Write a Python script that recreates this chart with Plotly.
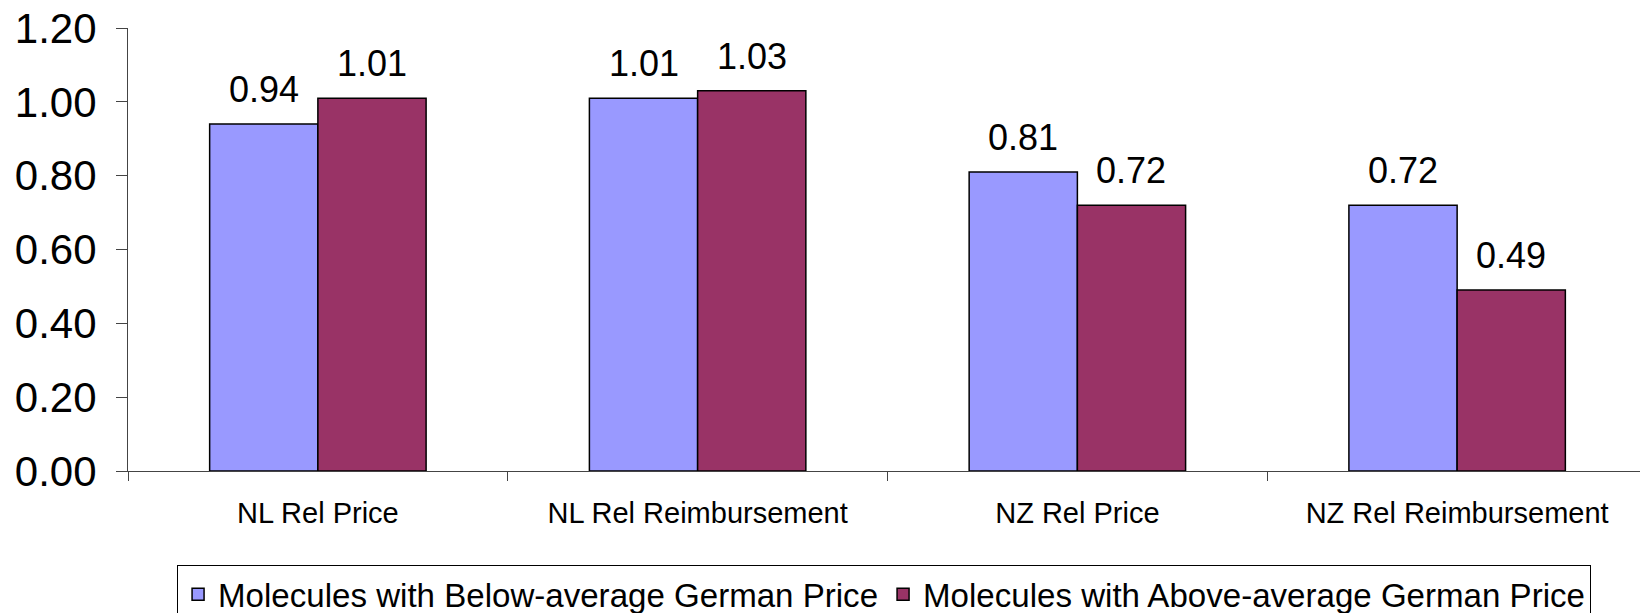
import plotly.graph_objects as go

categories = ["NL Rel Price", "NL Rel Reimbursement", "NZ Rel Price", "NZ Rel Reimbursement"]
series_names = ["Molecules with Below-average German Price", "Molecules with Above-average German Price"]
below_values = [0.94, 1.01, 0.81, 0.72]
above_values = [1.01, 1.03, 0.72, 0.49]
y_ticks = [0.0, 0.2, 0.4, 0.6, 0.8, 1.0, 1.2]
y_tick_labels = ["0.00", "0.20", "0.40", "0.60", "0.80", "1.00", "1.20"]

colors = ["#9999FF", "#993366"]
FONT = "Liberation Sans, Arial, sans-serif"

fig = go.Figure()
for name, vals, col in zip(series_names, [below_values, above_values], colors):
    fig.add_trace(go.Bar(
        x=categories, y=vals, name=name,
        marker=dict(color=col, line=dict(color="#000000", width=1.5)),
    ))

# value labels above bars
for si, vals in enumerate([below_values, above_values]):
    for cat, v in zip(categories, vals):
        fig.add_annotation(
            x=cat, y=v, text=f"{v:.2f}", showarrow=False,
            xref="x", yref="y", yanchor="bottom",
            xshift=(-54 if si == 0 else 54), yshift=12,
            font=dict(family=FONT, size=36, color="#000000"),
        )

# page body has an 8px default margin, so the figure is 1640x605
fig.update_layout(
    width=1640, height=605,
    margin=dict(l=120, r=1, t=20, b=142, pad=0, autoexpand=False),
    paper_bgcolor="white", plot_bgcolor="white",
    barmode="group", bargap=0.43, bargroupgap=0,
    font=dict(family=FONT, color="#000000"),
    showlegend=True,
    legend=dict(
        orientation="h", x=0.0323, xanchor="left", y=-0.213, yanchor="top",
        bordercolor="#000000", borderwidth=1,
        font=dict(family=FONT, size=33.1, color="#000000"),
    ),
)
fig.update_xaxes(
    type="category", showline=True, linecolor="#444444", linewidth=1,
    ticks="outside", ticklen=9, tickcolor="#444444", tickson="boundaries",
    tickfont=dict(family=FONT, size=29, color="#000000"),
    ticklabelstandoff=16, automargin=False,
    showgrid=False, zeroline=False,
)
fig.update_yaxes(
    range=[0, 1.2], tickvals=y_ticks, ticktext=y_tick_labels,
    showline=True, linecolor="#444444", linewidth=1,
    ticks="outside", ticklen=11, tickcolor="#444444",
    tickfont=dict(family=FONT, size=42, color="#000000"),
    ticklabelstandoff=11, automargin=False, ticklabeloverflow="allow",
    showgrid=False, zeroline=False,
)

fig.write_html("out.html")
